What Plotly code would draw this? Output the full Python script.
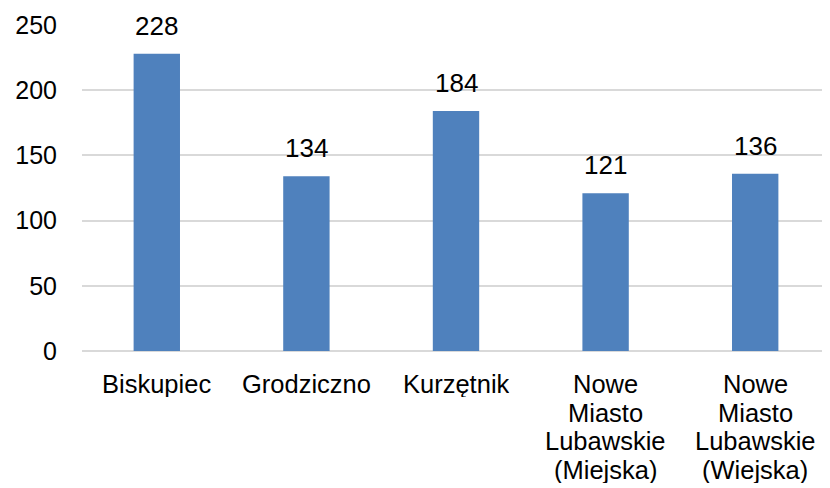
import plotly.graph_objects as go

categories = ["Biskupiec", "Grodziczno", "Kurzętnik",
              "Nowe Miasto Lubawskie (Miejska)",
              "Nowe Miasto Lubawskie (Wiejska)"]
category_lines = [["Biskupiec"], ["Grodziczno"], ["Kurzętnik"],
                  ["Nowe", "Miasto", "Lubawskie", "(Miejska)"],
                  ["Nowe", "Miasto", "Lubawskie", "(Wiejska)"]]
values = [228, 134, 184, 121, 136]
y_ticks = [0, 50, 100, 150, 200, 250]

FONT = "Liberation Sans, Arial, sans-serif"
FS = 26
CAT_FS = 25.5
BAR = "#4F81BD"
GRID = "#D9D9D9"
LINE_H = 28.5

fig = go.Figure()
fig.add_trace(go.Bar(x=categories, y=values, marker_color=BAR,
                     marker_line_width=0, width=0.31))

for c, v in zip(categories, values):
    fig.add_annotation(x=c, y=v, text=str(v), showarrow=False,
                       yanchor="bottom", yshift=11,
                       font=dict(family=FONT, size=FS, color="#000000"))

for c, lines in zip(categories, category_lines):
    for i, ln in enumerate(lines):
        fig.add_annotation(x=c, xref="x", y=0, yref="paper", text=ln,
                           showarrow=False, yanchor="top", height=26,
                           borderpad=0, valign="middle",
                           yshift=-19 - i * LINE_H,
                           font=dict(family=FONT, size=CAT_FS, color="#000000"))

fig.update_layout(
    width=822, height=480,
    margin=dict(l=74, r=0, t=17, b=137),
    paper_bgcolor="white", plot_bgcolor="white",
    font=dict(family=FONT, size=FS, color="#000000"),
    showlegend=False,
)
fig.update_yaxes(range=[0, 250], tickvals=y_ticks, showgrid=True,
                 gridcolor=GRID, gridwidth=1.5, zeroline=True,
                 zerolinecolor=GRID, zerolinewidth=1.5,
                 ticks="", ticklabelstandoff=24, showline=False,
                 automargin=False, tickfont=dict(size=25))
fig.update_xaxes(showgrid=False, ticks="", showline=False,
                 showticklabels=False, automargin=False)

fig.write_html("out.html")
